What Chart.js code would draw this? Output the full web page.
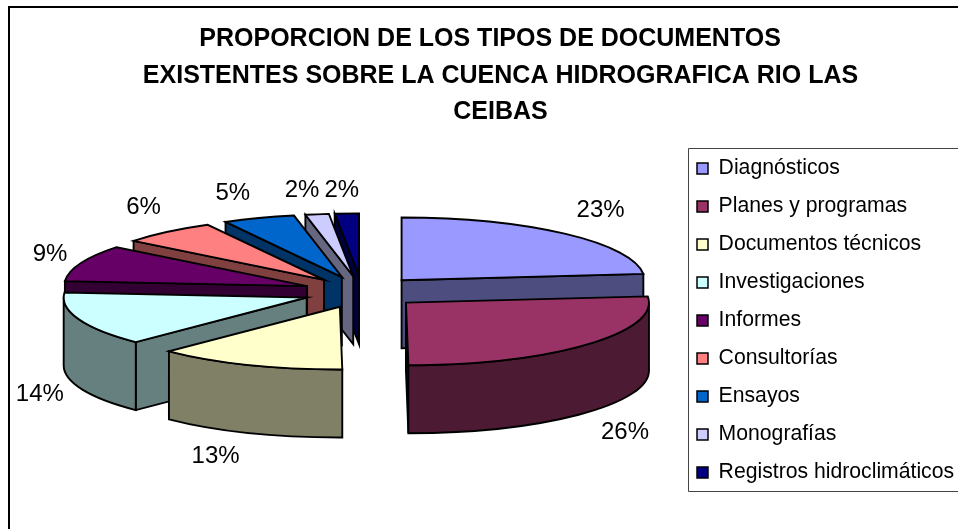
<!DOCTYPE html>
<html><head><meta charset="utf-8">
<style>html,body{margin:0;padding:0;background:#fff}#w{width:958px;height:529px}</style>
<script src="https://cdn.jsdelivr.net/npm/chart.js@4"></script>
</head><body><div id="w"><canvas id="c" width="958" height="529"></canvas></div>
<script>
const titleLines = ['PROPORCION DE LOS TIPOS DE DOCUMENTOS   ','EXISTENTES SOBRE LA CUENCA HIDROGRAFICA RIO LAS','CEIBAS'];
const categories = ['Diagnósticos','Planes y programas','Documentos técnicos','Investigaciones','Informes','Consultorías','Ensayos','Monografías','Registros hidroclimáticos'];
const shares = [23.45,26.49,12.6,13.9,9.4,6.4,4.8,1.56,1.6];
const topColors = ['#9999FF','#993366','#FFFFCC','#CCFFFF','#660066','#FF8080','#0066CC','#CCCCFF','#000080'];
const wallColors = ['#4D4D80','#4D1A33','#808066','#668080','#330033','#804040','#003366','#666680','#000040'];

const SQUASH = 0.258, DEPTH = 68, EXPLODE_Y = 0.27;
const paintOrder = [8,7,6,5,4,0,3,2,1];
const labelNudge = [[36,-23],[38,20],[-33,24],[-39,7],[-31,-9],[-24,-24],[-26,-25],[-15,-24],[-5,-23]];
const FONT = '"Liberation Sans", Arial, sans-serif';

const pie3d = {
  id:'pie3d',
  afterLayout(chart){
    const a = chart.chartArea;
    a.left=36; a.right=688; a.top=130; a.bottom=454; a.width=652; a.height=324;
    const l = chart.legend;
    l.left=680.2; l.right=958; l.top=141; l.bottom=529; l.width=277.8; l.height=388;
    const t = chart.titleBlock;
    t.left=43; t.right=958; t.width=915;
  },
  beforeDatasetDraw(chart,args){
    const ctx = chart.ctx, meta = args.meta;
    const total = meta.total;
    const geo = meta.data.map((arc)=>{
      const p = arc.getProps(['x','y','startAngle','endAngle','outerRadius'],true);
      const mid = (p.startAngle+p.endAngle)/2, off = arc.options.offset;
      return {...p, mid, cx:p.x+Math.cos(mid)*off, cy:p.y+Math.sin(mid)*off*EXPLODE_Y};
    });
    const pt = (g,a,d=0)=>[g.cx+Math.cos(a)*g.outerRadius, g.cy+Math.sin(a)*g.outerRadius*SQUASH+d];
    const ell = (g,a0,a1,d=0,ccw=false)=>ctx.ellipse(g.cx,g.cy+d,g.outerRadius,g.outerRadius*SQUASH,0,a0,a1,ccw);
    ctx.save();
    ctx.strokeStyle='#000'; ctx.lineWidth=1.9; ctx.lineJoin='miter';
    const fs=(c)=>{ctx.fillStyle=c;ctx.fill();ctx.stroke();};
    const radialWall=(g,a,c)=>{
      const r=pt(g,a);
      ctx.beginPath();ctx.moveTo(g.cx,g.cy);ctx.lineTo(r[0],r[1]);ctx.lineTo(r[0],r[1]+DEPTH);ctx.lineTo(g.cx,g.cy+DEPTH);ctx.closePath();fs(c);
    };
    // Library angles run clockwise on screen starting at -PI/2 (the top of the pie).
    paintOrder.forEach(i=>{
      const g=geo[i], c=wallColors[i];
      if(Math.cos(g.startAngle)<-1e-3) radialWall(g,g.startAngle,c);
      if(Math.cos(g.endAngle)>1e-3) radialWall(g,g.endAngle,c);
      const lo=Math.max(g.startAngle,0), hi=Math.min(g.endAngle,Math.PI);
      if(hi>lo){
        const b=pt(g,hi);
        ctx.beginPath();ell(g,lo,hi);ctx.lineTo(b[0],b[1]+DEPTH);ell(g,hi,lo,DEPTH,true);ctx.closePath();fs(c);
      }
      ctx.beginPath();ctx.moveTo(g.cx,g.cy);ell(g,g.startAngle,g.endAngle);ctx.closePath();fs(topColors[i]);
    });
    ctx.fillStyle='#000';ctx.font='24px '+FONT;ctx.textAlign='center';ctx.textBaseline='middle';
    geo.forEach((g,i)=>{
      const front=g.mid>0&&g.mid<Math.PI;
      const r=pt(g,g.mid,front?DEPTH:0);
      ctx.fillText(Math.round(shares[i]/total*100)+'%',r[0]+labelNudge[i][0],r[1]+labelNudge[i][1]);
    });
    ctx.restore();
    return false;
  },
  afterDraw(chart){
    const ctx=chart.ctx;
    ctx.save();
    ctx.strokeStyle='#000';ctx.lineWidth=2;
    ctx.beginPath();ctx.moveTo(958,7);ctx.lineTo(9,7);ctx.lineTo(9,529);ctx.stroke();
    ctx.strokeStyle='#444';ctx.lineWidth=1;
    ctx.beginPath();ctx.moveTo(958,148.5);ctx.lineTo(688.5,148.5);ctx.lineTo(688.5,491.5);ctx.lineTo(958,491.5);ctx.stroke();
    ctx.restore();
  }
};

new Chart(document.getElementById('c'),{
  type:'pie',
  data:{labels:categories,datasets:[{data:shares,backgroundColor:topColors,borderColor:'#000',borderWidth:1.5,offset:59,radius:243,clip:false}]},
  plugins:[pie3d],
  options:{
    responsive:false,animation:false,
    layout:{padding:0},
    plugins:{
      tooltip:{enabled:false},
      title:{display:true,text:titleLines,color:'#000',font:{family:FONT,size:25,weight:'bold',lineHeight:1.46},padding:{top:21,bottom:3}},
      legend:{display:true,position:'right',align:'start',
        labels:{boxWidth:11,boxHeight:11,padding:16.8,color:'#000',font:{family:FONT,size:21.2,lineHeight:1}}}
    }
  }
});
</script></body></html>
